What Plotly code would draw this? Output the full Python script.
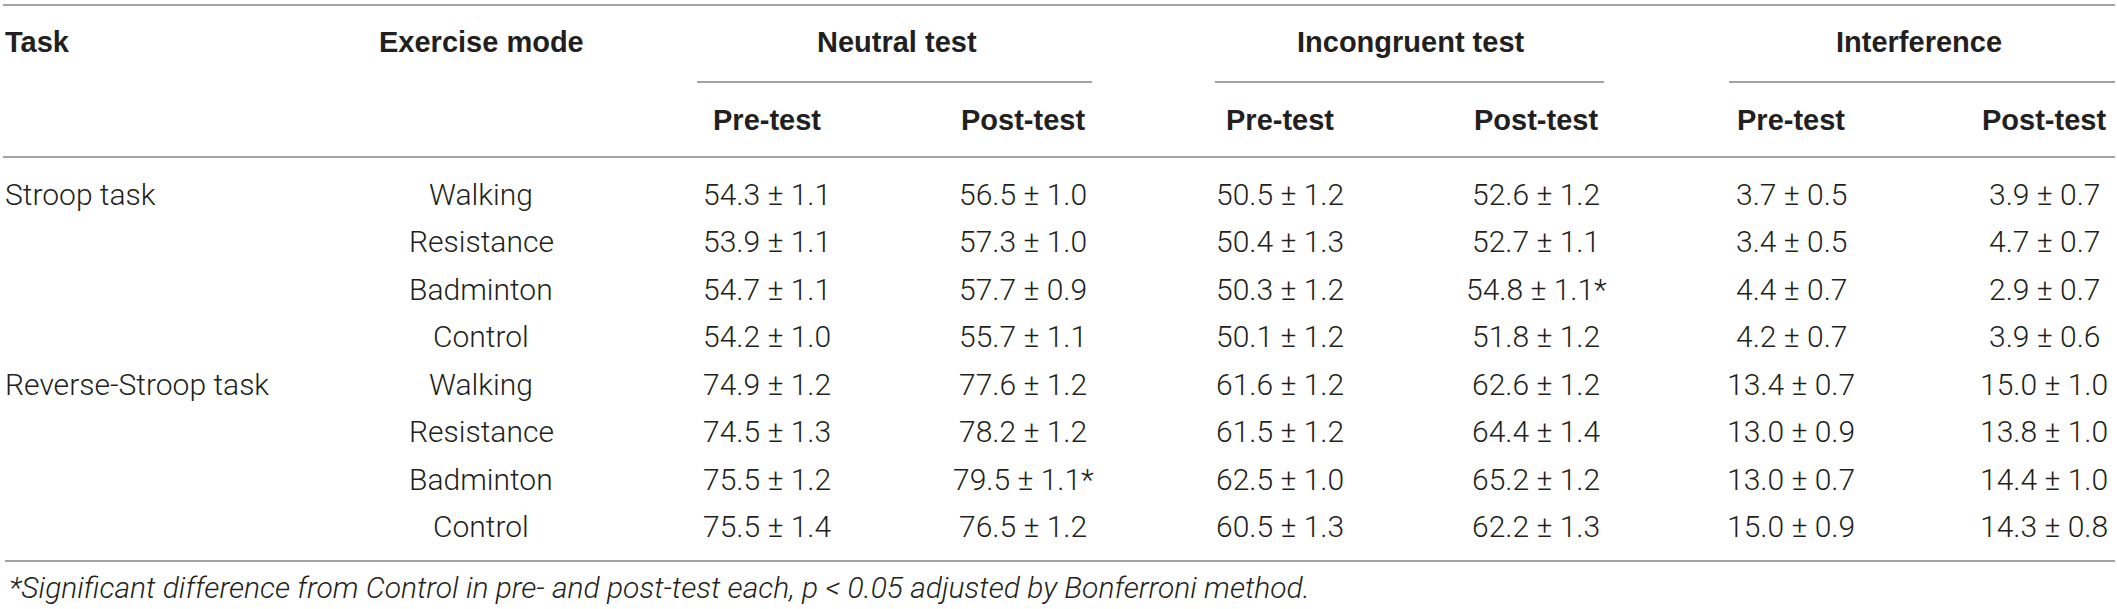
import plotly.graph_objects as go

# ---------------- data ----------------
tasks = ["Stroop task", "Reverse-Stroop task"]
modes = ["Walking", "Resistance", "Badminton", "Control"]
groups = ["Neutral test", "Incongruent test", "Interference"]
phases = ["Pre-test", "Post-test"]

neutral_pre_mean = [54.3, 53.9, 54.7, 54.2, 74.9, 74.5, 75.5, 75.5]
neutral_pre_sd = [1.1, 1.1, 1.1, 1.0, 1.2, 1.3, 1.2, 1.4]
neutral_post_mean = [56.5, 57.3, 57.7, 55.7, 77.6, 78.2, 79.5, 76.5]
neutral_post_sd = [1.0, 1.0, 0.9, 1.1, 1.2, 1.2, 1.1, 1.2]
incong_pre_mean = [50.5, 50.4, 50.3, 50.1, 61.6, 61.5, 62.5, 60.5]
incong_pre_sd = [1.2, 1.3, 1.2, 1.2, 1.2, 1.2, 1.0, 1.3]
incong_post_mean = [52.6, 52.7, 54.8, 51.8, 62.6, 64.4, 65.2, 62.2]
incong_post_sd = [1.2, 1.1, 1.1, 1.2, 1.2, 1.4, 1.2, 1.3]
interf_pre_mean = [3.7, 3.4, 4.4, 4.2, 13.4, 13.0, 13.0, 15.0]
interf_pre_sd = [0.5, 0.5, 0.7, 0.7, 0.7, 0.9, 0.7, 0.9]
interf_post_mean = [3.9, 4.7, 2.9, 3.9, 15.0, 13.8, 14.4, 14.3]
interf_post_sd = [0.7, 0.7, 0.7, 0.6, 1.0, 1.0, 1.0, 0.8]

# significance flags: (column index, row index)
significant = [(3, 2), (1, 6)]

footnote = ("*Significant difference from Control in pre- and post-test each, "
            "p < 0.05 adjusted by Bonferroni method.")

# ---------------- layout constants ----------------
W, H = 2117, 609
BODY_FONT = dict(family="Roboto, 'Liberation Sans', sans-serif", size=30,
                 color="#231f20", weight=300)
HEAD_FONT = dict(family="'Liberation Sans', Arial, sans-serif", size=29,
                 color="#231f20", weight="bold")
FOOT_FONT = dict(family="Roboto, 'Liberation Sans', sans-serif", size=30,
                 color="#231f20", weight=300, style="italic")
LINE = dict(color="#858585", width=1.6)

task_x = 3
mode_x = 481
group_x = [897, 1411, 1919]
col_x = [767, 1023, 1280, 1536, 1791, 2044]
partial = [(697, 1092), (1215, 1604), (1729, 2115)]
y_top, y_group, y_part, y_sub, y_head = 5, 42, 82, 120, 157
row_y0, row_dy = 194, 47.5
y_bottom, y_foot = 561, 587

columns = [
    (neutral_pre_mean, neutral_pre_sd),
    (neutral_post_mean, neutral_post_sd),
    (incong_pre_mean, incong_pre_sd),
    (incong_post_mean, incong_post_sd),
    (interf_pre_mean, interf_pre_sd),
    (interf_post_mean, interf_post_sd),
]

fig = go.Figure()
ann = []

def add(text, x, y, font, xanchor="center"):
    ann.append(dict(text=text, x=x, y=y, xref="x", yref="y", showarrow=False,
                    xanchor=xanchor, yanchor="middle", font=font))

# header
add("Task", task_x, y_group, HEAD_FONT, "left")
add("Exercise mode", mode_x, y_group, HEAD_FONT)
for g, gx in zip(groups, group_x):
    add(g, gx, y_group, HEAD_FONT)
for i, cx in enumerate(col_x):
    add(phases[i % 2], cx, y_sub, HEAD_FONT)

# body
n_rows = len(neutral_pre_mean)
for r in range(n_rows):
    y = row_y0 + row_dy * r
    if r % len(modes) == 0:
        add(tasks[r // len(modes)], task_x, y, BODY_FONT, "left")
    add(modes[r % len(modes)], mode_x, y, BODY_FONT)
    for c, (means, sds) in enumerate(columns):
        txt = f"{means[r]:.1f} \u00b1 {sds[r]:.1f}"
        if (c, r) in significant:
            txt += "*"
        add(txt, col_x[c], y, BODY_FONT)

add(footnote.replace("p < 0.05", "p &lt; 0.05"), 7, y_foot, FOOT_FONT, "left")

shapes = []
for y in (y_top, y_head):
    shapes.append(dict(type="line", xref="x", yref="y", x0=3, x1=2115,
                       y0=y, y1=y, line=LINE))
shapes.append(dict(type="line", xref="x", yref="y", x0=5, x1=2115,
                   y0=y_bottom, y1=y_bottom, line=LINE))
for x0, x1 in partial:
    shapes.append(dict(type="line", xref="x", yref="y", x0=x0, x1=x1,
                       y0=y_part, y1=y_part, line=LINE))

fig.update_layout(
    width=W, height=H,
    margin=dict(l=0, r=0, t=0, b=0),
    paper_bgcolor="white", plot_bgcolor="white",
    xaxis=dict(range=[0, W], visible=False, fixedrange=True),
    yaxis=dict(range=[H, 0], visible=False, fixedrange=True),
    annotations=ann, shapes=shapes, showlegend=False,
)

fig.write_html(
    "out.html",
    config={"displayModeBar": False},
    post_script="document.body.style.margin='0';document.body.style.overflow='hidden';",
)
